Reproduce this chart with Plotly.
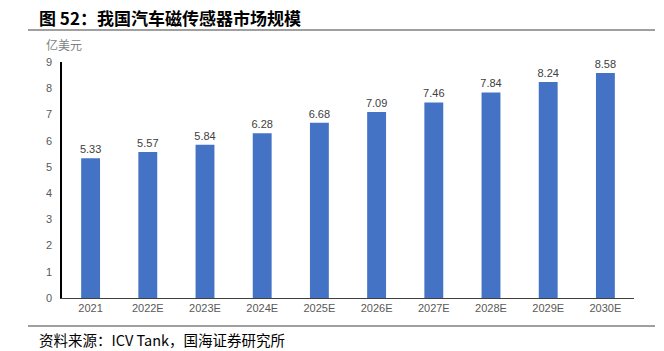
import plotly.graph_objects as go

categories = ["2021", "2022E", "2023E", "2024E", "2025E", "2026E", "2027E", "2028E", "2029E", "2030E"]
values = [5.33, 5.57, 5.84, 6.28, 6.68, 7.09, 7.46, 7.84, 8.24, 8.58]
y_ticks = [0, 1, 2, 3, 4, 5, 6, 7, 8, 9]

title_text = "图 52：我国汽车磁传感器市场规模"
unit_text = "亿美元"
source_text = "资料来源：ICV Tank，国海证券研究所"

fig = go.Figure(go.Bar(
    x=categories, y=values,
    marker=dict(color="#4472C4", line=dict(width=0)),
    text=[f"{v:.2f}" for v in values],
    textposition="outside",
    constraintext="none",
    textfont=dict(family="Liberation Sans, Arial", size=11, color="#404040"),
    cliponaxis=False,
))

fig.update_layout(
    width=664, height=351,
    margin=dict(l=62, r=30, t=62, b=53),
    paper_bgcolor="white", plot_bgcolor="white",
    bargap=0.67,
    showlegend=False,
    xaxis=dict(
        showline=True, linecolor="#404040", linewidth=1,
        tickfont=dict(family="Liberation Sans, Arial", size=11, color="#595959"),
        ticks="", showgrid=False,
    ),
    yaxis=dict(
        range=[0, 9], tickvals=y_ticks,
        showline=True, linecolor="#000000", linewidth=1.5,
        tickfont=dict(family="Liberation Sans, Arial", size=11, color="#595959"),
        ticks="", showgrid=False, zeroline=False,
        ticklabelstandoff=6,
    ),
    font=dict(family="Noto Sans CJK SC"),
    annotations=[
        dict(text="<b>" + title_text + "</b>", x=37, y=17,
             showarrow=False, font=dict(family="Noto Sans CJK SC", size=17, color="#000000"),
             xanchor="left", yanchor="middle"),
        dict(text=unit_text, x=44, y=45, showarrow=False,
             font=dict(family="Noto Sans CJK SC", size=12, color="#7f7f7f"),
             xanchor="left", yanchor="middle"),
        dict(text=source_text, x=37, y=339, showarrow=False,
             font=dict(family="Noto Sans CJK SC", size=14.5, color="#000000"),
             xanchor="left", yanchor="middle"),
    ],
)

# convert pixel positions for annotations to paper coords
pw = 664 - 62 - 30
ph = 351 - 62 - 53
new_ann = []
for a in fig.layout.annotations:
    a = a.to_plotly_json()
    a["xref"] = "paper"; a["yref"] = "paper"
    a["x"] = (a["x"] - 62) / pw
    a["y"] = 1 - (a["y"] - 62) / ph
    new_ann.append(a)
fig.layout.annotations = new_ann

fig.update_layout(shapes=[
    dict(type="line", xref="paper", yref="paper",
         x0=(28 - 62) / pw, x1=(655 - 62) / pw,
         y0=1 - (30 - 62) / ph, y1=1 - (30 - 62) / ph,
         line=dict(color="#808080", width=1.5)),
    dict(type="line", xref="paper", yref="paper",
         x0=(28 - 62) / pw, x1=(655 - 62) / pw,
         y0=1 - (326 - 62) / ph, y1=1 - (326 - 62) / ph,
         line=dict(color="#404040", width=1)),
])

fig.write_html("out.html")
